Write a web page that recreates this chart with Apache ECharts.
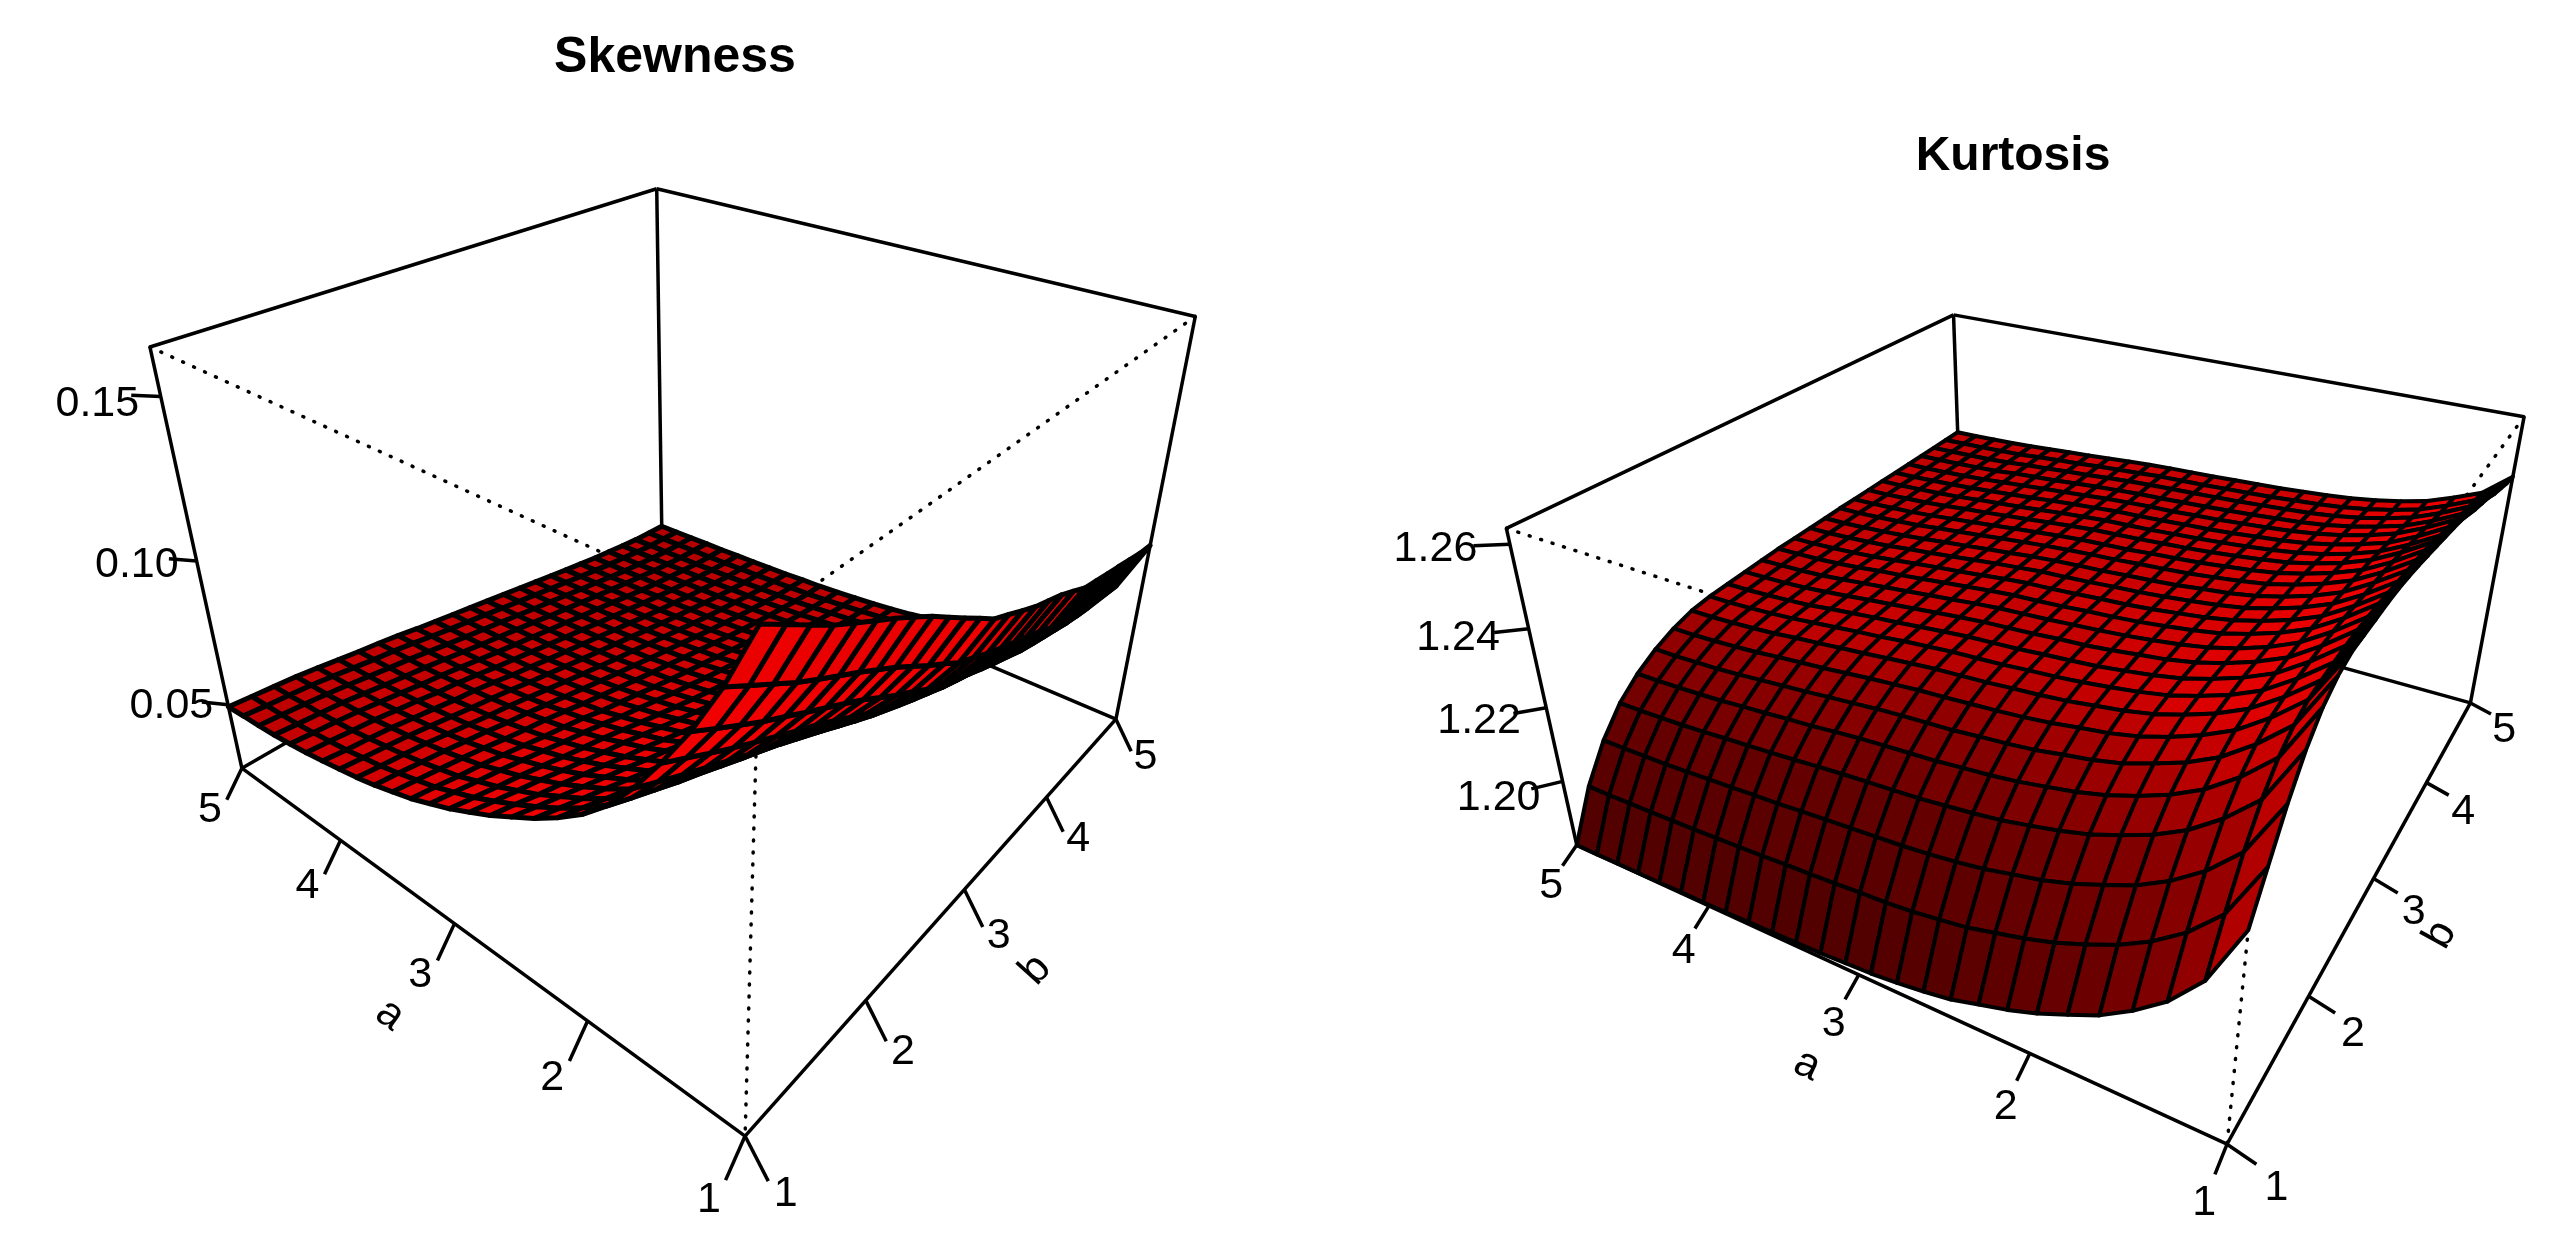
<!DOCTYPE html>
<html lang="en">
<head>
    <meta charset="UTF-8">
    <title>Skewness and Kurtosis</title>
    <script src="https://cdn.jsdelivr.net/npm/echarts@6/dist/echarts.min.js"></script>
    <style>
        * { margin: 0; padding: 0 }
        html, body { width: 100%; height: 100%; background: #fff; }
        #main { width: 2562px; height: 1257px; }
    </style>
</head>
<body>
<div id="main"></div>
<script type="text/javascript">
    // grid of the two surfaces
    var aValues = [1, 1.16, 1.32, 1.48, 1.64, 1.8, 1.96, 2.12, 2.28, 2.44, 2.6, 2.76, 2.92, 3.08, 3.24, 3.4, 3.56, 3.72, 3.88, 4.04, 4.2, 4.36, 4.52, 4.68, 4.84, 5];
    var bValues = [1, 1.16, 1.32, 1.48, 1.64, 1.8, 1.96, 2.12, 2.28, 2.44, 2.6, 2.76, 2.92, 3.08, 3.24, 3.4, 3.56, 3.72, 3.88, 4.04, 4.2, 4.36, 4.52, 4.68, 4.84, 5];

    var abTicks = [1, 2, 3, 4, 5];
    var skewTicks = [0.05, 0.10, 0.15];
    var kurtTicks = [1.20, 1.22, 1.24, 1.26];

    // z in units of 0.0001, one row per b, one column per a
    var skewRows = [
        [1638,1466,1323,1203,1094,1002,933,878,830,789,748,713,679,651,623,602,581,564,550,537,525,515,507,501,497,492],
        [1597,1425,1283,1167,1061,972,906,853,807,767,729,695,663,636,610,590,571,554,541,527,517,507,499,494,489,485],
        [1555,1384,1244,1130,1028,943,880,828,784,746,708,677,646,621,595,577,559,544,531,519,508,500,492,487,482,478],
        [1514,1343,1206,1095,997,914,853,804,762,725,690,660,631,607,583,565,548,534,521,510,500,491,485,479,475,471],
        [1479,1307,1172,1062,966,888,827,780,739,704,670,641,614,591,568,551,534,520,509,498,488,480,474,469,465,461],
        [1444,1272,1137,1030,936,860,802,756,716,683,650,622,595,574,552,535,521,507,496,486,477,469,462,458,454,450],
        [1410,1237,1103,997,907,832,777,732,693,661,629,603,578,557,536,521,506,493,483,473,464,457,451,447,443,439],
        [1373,1200,1069,966,878,806,752,709,672,641,611,587,562,542,522,508,494,482,472,463,455,447,441,437,434,430],
        [1335,1164,1034,932,848,778,726,685,649,620,590,567,544,525,507,493,479,468,459,450,442,435,430,425,423,419],
        [1293,1123,995,897,815,748,698,658,624,596,568,546,524,506,488,476,464,453,444,435,428,422,417,412,410,406],
        [1251,1082,957,862,783,719,671,633,601,574,548,527,506,490,473,461,449,439,431,423,416,410,405,401,398,395],
        [1210,1044,922,828,752,691,645,609,578,553,528,508,488,473,458,446,435,425,418,410,404,398,394,390,387,384],
        [1168,1004,885,795,722,664,619,584,556,531,508,489,471,456,442,431,421,412,405,398,392,387,383,379,376,373],
        [1141,977,858,769,699,642,599,565,536,512,491,473,455,441,427,417,408,399,392,386,380,375,371,367,364,362],
        [1113,948,831,744,675,620,578,545,518,494,474,456,440,426,413,404,394,387,380,374,369,364,359,356,353,351],
        [1086,922,806,719,652,598,557,526,499,477,456,440,424,412,400,390,382,374,368,362,356,352,348,345,342,340],
        [1065,899,783,698,631,578,539,508,482,460,441,425,410,398,386,377,369,361,355,350,345,341,337,334,331,329],
        [1044,877,761,677,611,560,521,490,465,444,425,409,396,384,372,364,356,349,343,338,334,330,326,323,320,318],
        [1017,851,735,652,588,538,501,471,447,426,409,394,380,369,359,350,343,337,331,326,322,318,315,312,309,307],
        [989,824,710,628,566,518,481,453,430,410,393,379,366,356,346,338,332,325,321,316,312,307,305,301,299,297],
        [975,807,693,611,550,502,466,438,415,396,379,366,354,343,334,327,320,315,310,305,301,297,295,291,289,287],
        [961,792,677,595,535,488,452,425,402,383,368,355,342,333,324,317,311,306,301,297,293,289,286,283,281,279],
        [948,777,661,580,519,474,439,412,389,371,356,343,332,323,314,308,301,296,292,288,284,281,278,275,273,271],
        [934,761,645,565,505,460,426,399,378,360,345,333,322,314,306,299,293,288,284,280,277,273,271,268,266,264],
        [920,747,632,551,493,449,415,389,368,351,337,325,315,307,299,293,288,283,279,276,272,269,267,264,262,260],
        [912,737,621,541,484,440,407,381,361,344,330,319,309,302,294,288,284,279,275,272,269,266,264,261,259,257]
    ];
    var kurtRows = [
        [12324,12181,12099,12042,11996,11963,11931,11906,11886,11865,11853,11843,11836,11832,11828,11826,11824,11822,11820,11819,11819,11818,11817,11817,11816,11816],
        [12406,12276,12204,12152,12112,12082,12055,12034,12017,12000,11990,11981,11975,11972,11968,11964,11962,11958,11955,11952,11950,11948,11946,11945,11943,11943],
        [12488,12362,12292,12241,12202,12174,12148,12128,12114,12099,12089,12081,12075,12071,12067,12063,12059,12054,12051,12047,12044,12040,12037,12036,12034,12033],
        [12554,12428,12361,12309,12272,12244,12219,12201,12187,12174,12165,12158,12151,12147,12143,12139,12134,12128,12123,12118,12114,12109,12105,12102,12100,12099],
        [12599,12474,12408,12356,12319,12291,12267,12250,12237,12225,12216,12210,12203,12199,12195,12190,12184,12177,12172,12166,12161,12155,12151,12148,12145,12144],
        [12624,12502,12438,12386,12350,12324,12300,12284,12273,12261,12253,12247,12240,12236,12232,12227,12220,12214,12207,12201,12195,12189,12184,12181,12178,12177],
        [12636,12517,12456,12406,12372,12345,12323,12308,12298,12287,12279,12273,12268,12263,12259,12253,12247,12240,12233,12227,12221,12214,12209,12205,12202,12201],
        [12636,12522,12464,12416,12383,12358,12337,12323,12313,12303,12296,12291,12285,12281,12277,12271,12264,12257,12251,12244,12238,12231,12226,12222,12219,12218],
        [12636,12524,12468,12420,12388,12364,12344,12331,12321,12312,12305,12300,12294,12290,12286,12280,12274,12266,12260,12253,12246,12239,12234,12230,12227,12226],
        [12636,12526,12470,12423,12392,12368,12348,12335,12325,12316,12310,12305,12299,12295,12291,12285,12278,12271,12265,12258,12251,12243,12238,12234,12231,12230],
        [12634,12526,12471,12424,12394,12370,12351,12338,12330,12321,12314,12310,12304,12300,12296,12290,12283,12276,12269,12262,12255,12248,12242,12238,12236,12234],
        [12629,12523,12470,12425,12394,12371,12353,12341,12332,12324,12318,12313,12308,12304,12300,12294,12287,12280,12273,12266,12259,12252,12246,12242,12240,12238],
        [12623,12520,12468,12424,12395,12372,12354,12343,12334,12326,12320,12316,12310,12306,12303,12297,12290,12283,12276,12269,12263,12256,12250,12246,12244,12242],
        [12615,12514,12464,12421,12393,12371,12354,12342,12334,12326,12320,12316,12311,12307,12304,12298,12291,12284,12278,12271,12264,12257,12252,12248,12245,12244],
        [12607,12509,12460,12419,12391,12370,12353,12342,12334,12327,12321,12317,12312,12308,12305,12299,12293,12286,12279,12272,12266,12259,12254,12250,12247,12246],
        [12599,12504,12457,12416,12389,12368,12352,12341,12334,12326,12321,12317,12312,12309,12305,12300,12293,12287,12280,12274,12267,12261,12256,12252,12249,12248],
        [12591,12499,12453,12414,12388,12368,12352,12342,12334,12327,12322,12318,12313,12310,12306,12301,12295,12289,12282,12276,12270,12263,12259,12255,12252,12251],
        [12582,12493,12448,12410,12385,12366,12350,12340,12333,12326,12321,12317,12312,12309,12306,12301,12295,12289,12282,12276,12270,12264,12259,12256,12253,12252],
        [12571,12485,12442,12406,12381,12363,12348,12339,12332,12325,12320,12316,12312,12309,12306,12301,12295,12289,12283,12277,12272,12266,12261,12258,12255,12254],
        [12554,12473,12433,12399,12376,12358,12345,12336,12329,12323,12318,12314,12310,12307,12305,12300,12295,12289,12283,12278,12273,12267,12263,12260,12257,12256],
        [12542,12465,12426,12393,12372,12355,12342,12333,12327,12321,12316,12313,12309,12306,12304,12299,12294,12289,12283,12278,12273,12268,12264,12261,12258,12257],
        [12530,12457,12420,12389,12368,12352,12340,12331,12325,12320,12315,12312,12308,12306,12303,12299,12294,12289,12284,12279,12274,12269,12265,12262,12260,12259],
        [12513,12445,12411,12382,12363,12348,12336,12328,12323,12318,12314,12310,12307,12304,12302,12298,12294,12289,12284,12280,12276,12270,12267,12264,12262,12261],
        [12501,12437,12404,12377,12359,12345,12334,12327,12322,12318,12314,12311,12308,12306,12303,12300,12295,12290,12286,12281,12277,12272,12268,12266,12264,12263],
        [12488,12428,12398,12372,12355,12342,12332,12325,12321,12316,12313,12310,12307,12305,12303,12299,12295,12291,12286,12282,12278,12273,12270,12268,12266,12265],
        [12480,12422,12394,12369,12353,12341,12331,12325,12320,12316,12313,12310,12307,12305,12303,12300,12296,12291,12287,12283,12279,12275,12272,12270,12268,12267]
    ];

    // perspective of each box: screen = (o + a*p + b*q + z*r) / (1 + wa*p + wb*q + wz*r), p,q,r in 0..1
    var skewPanel = {
        title: 'Skewness', titleX: 670, titleY: 28, titleSize: 50, rows: skewRows, zMin: 0.0257, zMax: 0.1638, zTicks: skewTicks, digits: 2, mesh: 5, gamma: 1.25,
        x: [456, -253.7, 532.2, -98], y: [695, -52.7, -58.4, -401], w: [0.3667, 0.4469, -0.23],
        aTick: [-0.035, -0.058], aLabel: [-0.065, -0.06], aName: [-0.12, -0.10], aAngle: -36,
        bTick: [-0.035, -0.07], bLabel: [-0.06, -0.07], bName: [-0.12, -0.105], bAngle: 48,
        zTick: [0.04, -0.02, -0.004], zLabel: [0.09, -0.045, -0.03]
    };
    var kurtPanel = {
        title: 'Kurtosis', titleX: 2008, titleY: 128, titleSize: 48, rows: kurtRows, zMin: 1.1816, zMax: 1.2636, zTicks: kurtTicks, digits: 2, mesh: 4, gamma: 0.85,
        x: [1363, -102.5, 923.1, -213], y: [700, -24.7, -49.8, -308], w: [0.3062, 0.512, -0.17],
        aTick: [-0.03, -0.032], aLabel: [-0.055, -0.07], aName: [-0.11, -0.11], aAngle: -25,
        bTick: [-0.035, -0.02], bLabel: [-0.06, -0.065], bName: [-0.10, -0.11], bAngle: 61,
        zTick: [0, -0.05, 0.04], zLabel: [0, -0.1, 0.075]
    };

    var light = [0.65, 0.61, 0.46];
    var fontFamily = '"Liberation Sans", Arial, sans-serif';

    function project(panel, p, q, r) {
        var w = 1 + panel.w[0] * p + panel.w[1] * q + panel.w[2] * r;
        return [
            (panel.x[0] + panel.x[1] * p + panel.x[2] * q + panel.x[3] * r) / w,
            (panel.y[0] + panel.y[1] * p + panel.y[2] * q + panel.y[3] * r) / w
        ];
    }

    function aPos(a) { return (a - 1) / 4; }
    function bPos(b) { return (b - 1) / 4; }
    function zPos(panel, i, j) {
        return (panel.rows[j][i] / 10000 - panel.zMin) / (panel.zMax - panel.zMin);
    }

    // brightness of a facet, the way persp() shades it
    function facetColor(panel, i, j) {
        var da = 2 * (aPos(aValues[i + 1]) - aPos(aValues[i]));
        var db = 2 * (bPos(bValues[j + 1]) - bPos(bValues[j]));
        var d1 = 2 * (zPos(panel, i + 1, j + 1) - zPos(panel, i, j));
        var d2 = 2 * (zPos(panel, i, j + 1) - zPos(panel, i + 1, j));
        var nx = -db * d1 + db * d2;
        var ny = -da * d1 - da * d2;
        var nz = 2 * da * db;
        var len = Math.sqrt(nx * nx + ny * ny + nz * nz);
        var c = (nx * light[0] + ny * light[1] + nz * light[2]) / len;
        return 'rgb(' + Math.round(255 * Math.pow(0.5 * (1 + c), panel.gamma)) + ',0,0)';
    }

    function surfaceItem(panel) {
        return function (params, api) {
            var i = api.value(0), j = api.value(1);
            var corners = [[i, j], [i + 1, j], [i + 1, j + 1], [i, j + 1]].map(function (c) {
                return api.coord(project(panel, aPos(aValues[c[0]]), bPos(bValues[c[1]]), zPos(panel, c[0], c[1])));
            });
            return {
                type: 'polygon',
                shape: { points: corners },
                style: { fill: facetColor(panel, i, j), stroke: '#000', lineWidth: panel.mesh, lineJoin: 'round' }
            };
        };
    }

    function boxItem(panel) {
        return function (params, api) {
            var kids = [];
            function seg(from, to, dotted) {
                var s = api.coord(project(panel, from[0], from[1], from[2]));
                var e = api.coord(project(panel, to[0], to[1], to[2]));
                kids.push({
                    type: 'line',
                    shape: { x1: s[0], y1: s[1], x2: e[0], y2: e[1] },
                    style: { stroke: '#000', lineWidth: 3.5, lineDash: dotted ? [1, 11] : null, lineCap: dotted ? 'round' : 'butt' }
                });
            }
            function label(text, at, angle) {
                var c = api.coord(project(panel, at[0], at[1], at[2]));
                kids.push({
                    type: 'text', x: c[0], y: c[1], rotation: (angle || 0) * Math.PI / 180,
                    style: { text: text, x: 0, y: 0, align: 'center', verticalAlign: 'middle', fill: '#000', font: '43px ' + fontFamily }
                });
            }
            // [p, q, r]: p along a, q along b, r along z
            seg([1, 0, 1], [1, 1, 1]); seg([1, 1, 1], [0, 1, 1]);
            seg([1, 0, 1], [1, 0, 0]); seg([1, 1, 1], [1, 1, 0]); seg([0, 1, 1], [0, 1, 0]);
            seg([1, 0, 0], [0, 0, 0]); seg([0, 0, 0], [0, 1, 0]);
            seg([1, 0, 0], [1, 1, 0]); seg([1, 1, 0], [0, 1, 0]);
            seg([1, 0, 1], [0, 0, 1], true); seg([0, 1, 1], [0, 0, 1], true); seg([0, 0, 1], [0, 0, 0], true);

            abTicks.forEach(function (t) {
                var p = aPos(t), q = bPos(t);
                seg([p, 0, 0], [p, panel.aTick[0], panel.aTick[1]]);
                label(String(t), [p, panel.aLabel[0], panel.aLabel[1]]);
                seg([0, q, 0], [panel.bTick[0], q, panel.bTick[1]]);
                label(String(t), [panel.bLabel[0], q, panel.bLabel[1]]);
            });
            panel.zTicks.forEach(function (t) {
                var r = (t - panel.zMin) / (panel.zMax - panel.zMin);
                seg([1, 0, r], [1 + panel.zTick[0], panel.zTick[1], r + panel.zTick[2]]);
                label(t.toFixed(panel.digits), [1 + panel.zLabel[0], panel.zLabel[1], r + panel.zLabel[2]]);
            });
            label('a', [0.5, panel.aName[0], panel.aName[1]], panel.aAngle);
            label('b', [panel.bName[0], 0.5, panel.bName[1]], panel.bAngle);
            return { type: 'group', children: kids };
        };
    }

    // far cells first so nearer ones paint over them
    function facetData() {
        var out = [];
        for (var j = bValues.length - 2; j >= 0; j--) {
            for (var i = aValues.length - 2; i >= 0; i--) {
                out.push([i, j]);
            }
        }
        return out;
    }

    var series = [];
    [skewPanel, kurtPanel].forEach(function (panel) {
        series.push({ type: 'custom', renderItem: boxItem(panel), data: [[0, 0]], clip: false, silent: true, z: 1 });
        series.push({ type: 'custom', renderItem: surfaceItem(panel), data: facetData(), clip: false, silent: true, z: 2, progressive: 0 });
    });

    var myChart = echarts.init(document.getElementById('main'));
    myChart.setOption({
        animation: false,
        title: [skewPanel, kurtPanel].map(function (panel) {
            return {
                text: panel.title, left: panel.titleX, top: panel.titleY, textAlign: 'center',
                textStyle: { color: '#000', fontFamily: fontFamily, fontWeight: 'bold', fontSize: panel.titleSize }
            };
        }),
        grid: { left: 0, right: 0, top: 0, bottom: 0 },
        xAxis: { type: 'value', min: 0, max: 1568, show: false },
        yAxis: { type: 'value', min: 0, max: 769, inverse: true, show: false },
        series: series
    });
</script>
</body>
</html>
